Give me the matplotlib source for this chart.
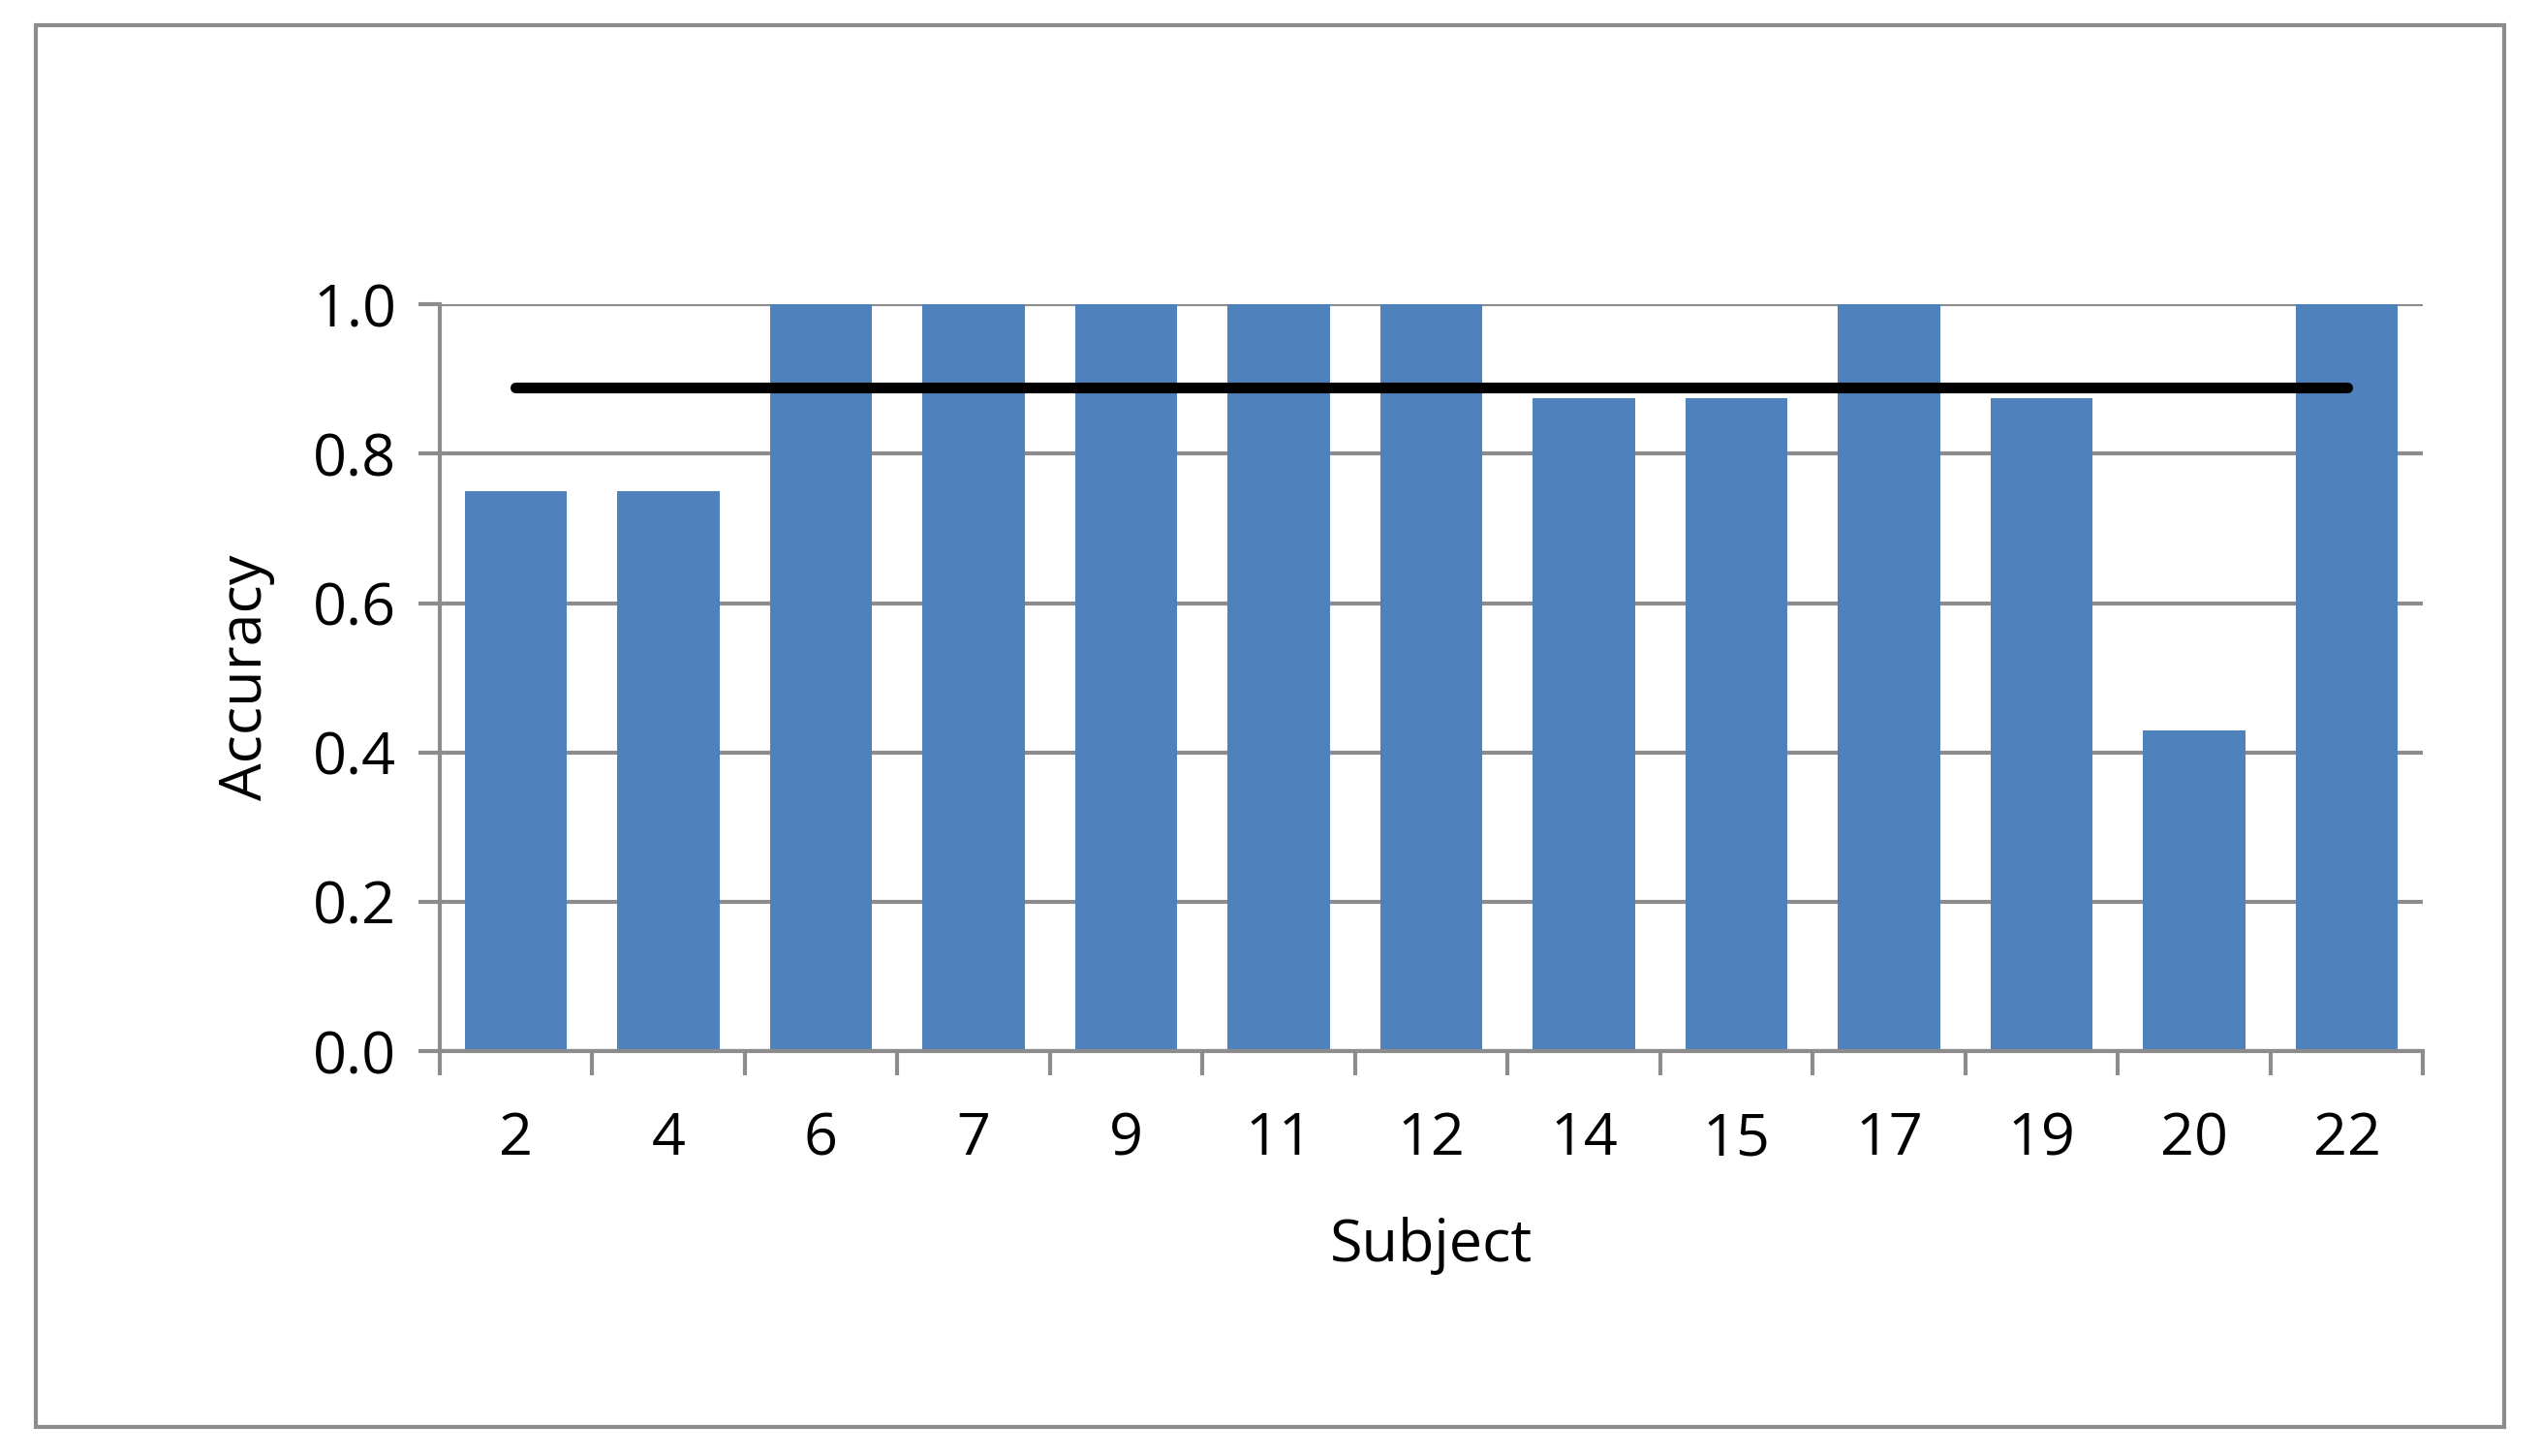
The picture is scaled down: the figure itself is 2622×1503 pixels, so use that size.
import matplotlib
matplotlib.use("Agg")
import matplotlib.pyplot as plt
from matplotlib.patches import Rectangle
import numpy as np

subjects = ["2","4","6","7","9","11","12","14","15","17","19","20","22"]
accuracy = [0.75,0.75,1.0,1.0,1.0,1.0,1.0,0.875,0.875,1.0,0.875,0.429,1.0]
mean_acc = 0.889

plt.rcParams['font.family'] = ['Open Sans', 'DejaVu Sans']
fig = plt.figure(figsize=(13.11, 7.515), dpi=200)
fig.patches.append(Rectangle((0.014, 0.02), 0.972, 0.963, transform=fig.transFigure,
                             fill=False, edgecolor='#8c8c8c', linewidth=1.5))
ax = fig.add_axes([0.173, 0.278, 0.781, 0.513])
x = np.arange(len(subjects))
ax.bar(x, accuracy, width=0.67, color='#4f81bd', zorder=2)
ax.plot([x[0], x[-1]], [mean_acc, mean_acc], color='black', lw=4, solid_capstyle='round', zorder=3)
ax.set_xlim(-0.5, len(subjects) - 0.5)
ax.set_ylim(0, 1.0)
ax.set_yticks(np.arange(0, 1.01, 0.2))
ax.set_yticklabels([f"{v:.1f}" for v in np.arange(0, 1.01, 0.2)])
ax.yaxis.grid(True, color='#8c8c8c', lw=1.5, zorder=0)
ax.set_axisbelow(True)
ax.set_xticks(x)
ax.set_xticklabels(subjects)
ax.set_xticks(np.arange(-0.5, len(subjects)), minor=True)
ax.tick_params(axis='x', which='major', length=0, pad=22, labelsize=22)
ax.tick_params(axis='x', which='minor', length=9, width=1.5, color='#8c8c8c', direction='out')
ax.tick_params(axis='y', length=8, width=1.5, color='#8c8c8c', labelsize=22, pad=8)
for s in ['top', 'right']:
    ax.spines[s].set_visible(False)
for s in ['left', 'bottom']:
    ax.spines[s].set_color('#8c8c8c')
    ax.spines[s].set_linewidth(1.5)
ax.set_xlabel("Subject", fontsize=22, labelpad=18)
ax.set_ylabel("Accuracy", fontsize=22, labelpad=14)
fig.savefig("out.png", dpi=200)
